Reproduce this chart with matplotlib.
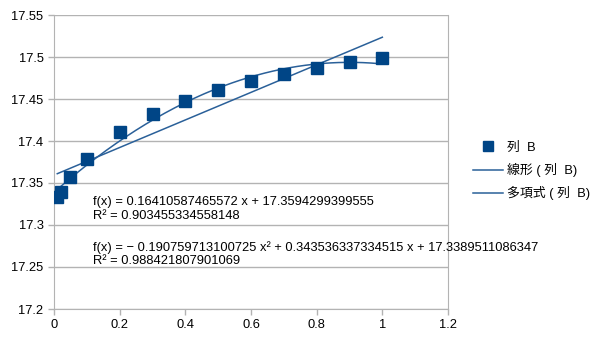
import matplotlib
matplotlib.use("Agg")
import matplotlib.pyplot as plt
import numpy as np

# column B measurements
x_vals = [0.01, 0.02, 0.05, 0.1, 0.2, 0.3, 0.4, 0.5, 0.6, 0.7, 0.8, 0.9, 1.0]
y_vals = [17.333, 17.339, 17.357, 17.379, 17.411, 17.432, 17.448,
          17.461, 17.471, 17.480, 17.487, 17.494, 17.499]

# trendline coefficients (highest power first)
lin_coef = [0.16410587465572, 17.3594299399555]
lin_r2 = 0.903455334558148
poly_coef = [-0.190759713100725, 0.343536337334515, 17.3389511086347]
poly_r2 = 0.988421807901069

x_ticks = [0, 0.2, 0.4, 0.6, 0.8, 1, 1.2]
y_ticks = [17.2, 17.25, 17.3, 17.35, 17.4, 17.45, 17.5, 17.55]

series_label = "列  B"
lin_label = "線形 ( 列  B)"
poly_label = "多項式 ( 列  B)"

MARK = "#004586"
TREND = "#2a6099"
GRID = "#b3b3b3"
FS = 9.3

plt.rcParams["font.family"] = ["Liberation Sans", "Noto Sans CJK JP", "DejaVu Sans"]

fig = plt.figure(figsize=(6.05, 3.4), dpi=100)
ax = fig.add_axes([54 / 605, 31 / 340, 394 / 605, 294 / 340])

xs = np.linspace(min(x_vals), max(x_vals), 200)
ax.plot(xs, np.polyval(lin_coef, xs), color=TREND, lw=1.1, zorder=2, label=lin_label)
ax.plot(xs, np.polyval(poly_coef, xs), color=TREND, lw=1.1, zorder=2, label=poly_label)
ax.plot(x_vals, y_vals, ls="none", marker="s", ms=8.2, color=MARK, zorder=3,
        label=series_label)

ax.set_xlim(0, 1.2)
ax.set_ylim(17.2, 17.55)
ax.set_xticks(x_ticks)
ax.set_yticks(y_ticks)
ax.set_xticklabels(["0", "0.2", "0.4", "0.6", "0.8", "1", "1.2"])
ax.set_yticklabels(["17.2", "17.25", "17.3", "17.35", "17.4", "17.45", "17.5", "17.55"])
ax.tick_params(labelsize=FS, colors=GRID, labelcolor="black", length=4, width=1)
ax.grid(axis="y", color=GRID, lw=1)
ax.set_axisbelow(True)
for side in ("left", "bottom", "right"):
    ax.spines[side].set_color(GRID)
ax.spines["top"].set_visible(False)

ax.text(0.118, 17.319, f"f(x) = {lin_coef[0]:.14f} x + {lin_coef[1]:.13f}\n"
        f"R² = {lin_r2:.15f}", fontsize=FS, va="center", linespacing=1.15)
ax.text(0.118, 17.265, f"f(x) = − {-poly_coef[0]:.15f} x² + {poly_coef[1]:.15f} x + "
        f"{poly_coef[2]:.13f}\nR² = {poly_r2:.15f}", fontsize=FS, va="center",
        linespacing=1.15)

handles, labels = ax.get_legend_handles_labels()
order = [2, 0, 1]
fig.legend([handles[i] for i in order], [labels[i] for i in order],
           loc="center left", bbox_to_anchor=(473 / 605, 1 - 171 / 340),
           frameon=False, fontsize=FS, handlelength=2.3, handletextpad=0.35,
           labelspacing=0.7, borderpad=0, borderaxespad=0, markerscale=0.85)

fig.savefig("out.png", dpi=100)
